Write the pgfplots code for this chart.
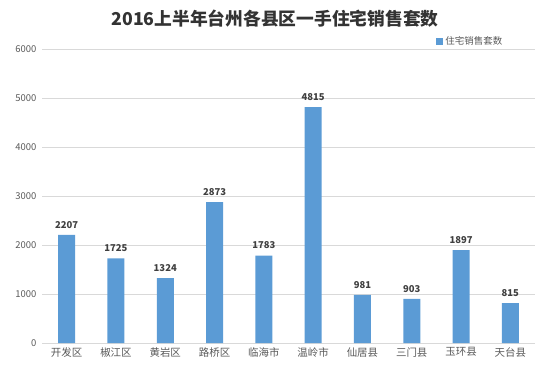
\documentclass[border=0pt]{standalone}
\usepackage{fontspec}
\setmainfont{Noto Sans CJK SC}
\usepackage{pgfplots}
\pgfplotsset{compat=1.18}
\definecolor{barblue}{HTML}{5B9BD5}
\definecolor{gridgray}{HTML}{D9D9D9}
\definecolor{ticktext}{HTML}{595959}
\definecolor{labeltext}{HTML}{404040}
\begin{document}
\begin{tikzpicture}[x=1bp,y=1bp]
\path[use as bounding box] (0,0) rectangle (550,372);
\node[font=\bfseries\fontsize{17.8}{19}\selectfont, text=labeltext!80!black] at (275,353) {2016上半年台州各县区一手住宅销售套数};
\begin{axis}[
  at={(42bp,29bp)}, anchor=south west,
  scale only axis, width=493bp, height=294bp,
  xmin=-0.5, xmax=9.5, ymin=0, ymax=6000,
  ytick={0,1000,...,6000},
  xtick={0,...,9},
  xticklabels={开发区,椒江区,黄岩区,路桥区,临海市,温岭市,仙居县,三门县,玉环县,天台县},
  axis x line*=bottom, axis y line*=left,
  x axis line style={draw=gridgray},
  y axis line style={draw=none},
  ymajorgrids, grid style={gridgray, line width=0.6pt},
  major tick length=0pt,
  /pgf/number format/assume math mode=true,
  /pgf/number format/set thousands separator={},
  yticklabel style={font=\fontsize{9.5}{11}\selectfont, text=ticktext, xshift=-2bp},
  xticklabel style={font=\fontsize{10.5}{12}\selectfont, text=ticktext, yshift=-1bp},
  ybar, bar width=17bp,
  nodes near coords,
  every node near coord/.append style={font=\bfseries\fontsize{9.5}{10}\selectfont, text=labeltext, /pgf/number format/assume math mode=true, yshift=3bp},
  legend style={at={(0.94,1)}, anchor=south east, draw=none, fill=none, font=\fontsize{9.5}{11}\selectfont, text=ticktext, yshift=0bp, inner sep=1bp},
  legend image code/.code={\fill[barblue] (0bp,-3.5bp) rectangle (7bp,3.5bp);},
]
\addplot[fill=barblue, draw=none] coordinates {(0,2207) (1,1725) (2,1324) (3,2873) (4,1783) (5,4815) (6,981) (7,903) (8,1897) (9,815)};
\addlegendentry{住宅销售套数}
\end{axis}
\end{tikzpicture}
\end{document}
